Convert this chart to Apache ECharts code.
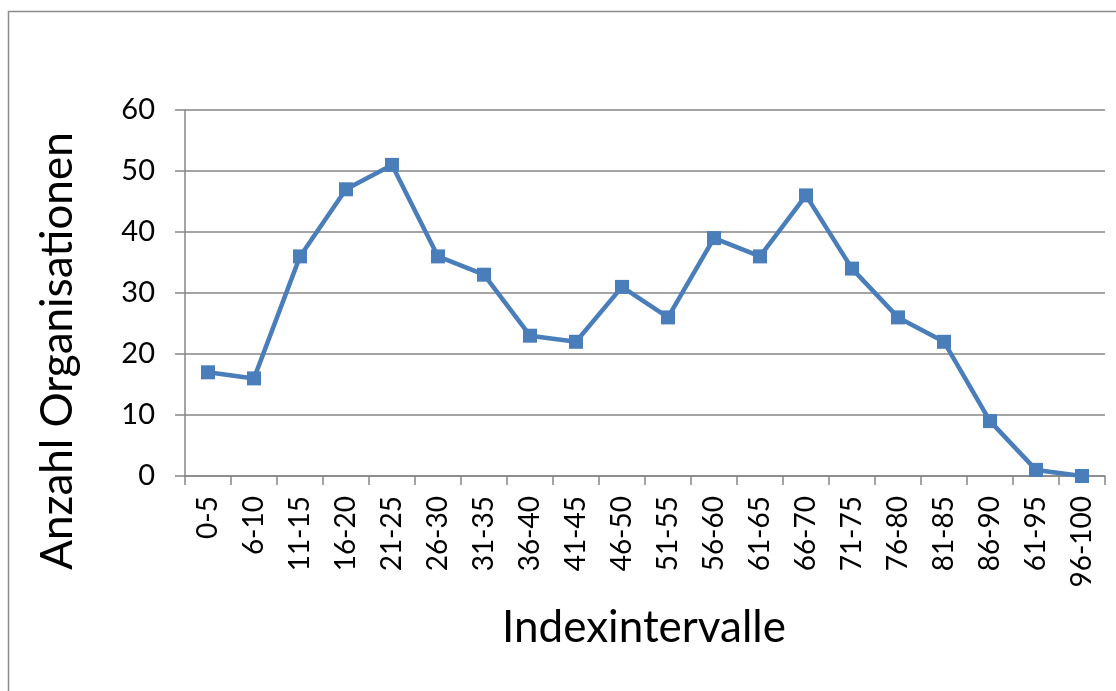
<!DOCTYPE html>
<html><head><meta charset="utf-8">
<script src="https://cdn.jsdelivr.net/npm/echarts@6/dist/echarts.min.js"></script>
<style>html,body{margin:0;padding:0;background:#fff}#c{width:1116px;height:691px}</style>
</head><body><div id="c"></div>
<script>
const categories = ['0-5','6-10','11-15','16-20','21-25','26-30','31-35','36-40','41-45','46-50','51-55','56-60','61-65','66-70','71-75','76-80','81-85','86-90','61-95','96-100'];
const values = [17,16,36,47,51,36,33,23,22,31,26,39,36,46,34,26,22,9,1,0];
const yTicks = [0,10,20,30,40,50,60];
const xTitle = 'Indexintervalle';
const yTitle = 'Anzahl Organisationen';
const FONT = 'Lato';
const chart = echarts.init(document.getElementById('c'));
chart.setOption({
  animation:false,
  backgroundColor:'#fff',
  grid:{left:185,right:11,top:110,bottom:215,containLabel:false},
  graphic:[
    {type:'rect',shape:{x:8.5,y:11.5,width:1300,height:900},style:{fill:'none',stroke:'#8c8c8c',lineWidth:1.5},silent:true},
    {type:'text',x:58,y:351,rotation:Math.PI/2,style:{text:yTitle,font:'44px '+FONT,fill:'#000',align:'center',verticalAlign:'middle'}},
    {type:'text',x:644,y:628,style:{text:xTitle,font:'44px '+FONT,fill:'#000',align:'center',verticalAlign:'middle'}}
  ],
  xAxis:{type:'category',data:categories,boundaryGap:true,
    axisLine:{lineStyle:{color:'#868686',width:1.5}},
    axisTick:{show:true,length:9,alignWithLabel:false,lineStyle:{color:'#868686',width:1.5}},
    axisLabel:{rotate:90,fontFamily:FONT,fontSize:28,color:'#000',margin:20,interval:0},
    splitLine:{show:false}},
  yAxis:{type:'value',min:yTicks[0],max:yTicks[yTicks.length-1],interval:10,
    axisLine:{show:true,lineStyle:{color:'#868686',width:1.5}},
    axisTick:{show:true,length:10,lineStyle:{color:'#868686',width:1.5}},
    axisLabel:{fontFamily:FONT,fontSize:29,color:'#000',margin:30},
    splitLine:{lineStyle:{color:'#868686',width:1.5}}},
  series:[{type:'line',data:values,symbol:'rect',symbolSize:14,
    lineStyle:{color:'#4a7ebb',width:4.5},itemStyle:{color:'#4a7ebb'}}]
});
</script></body></html>
